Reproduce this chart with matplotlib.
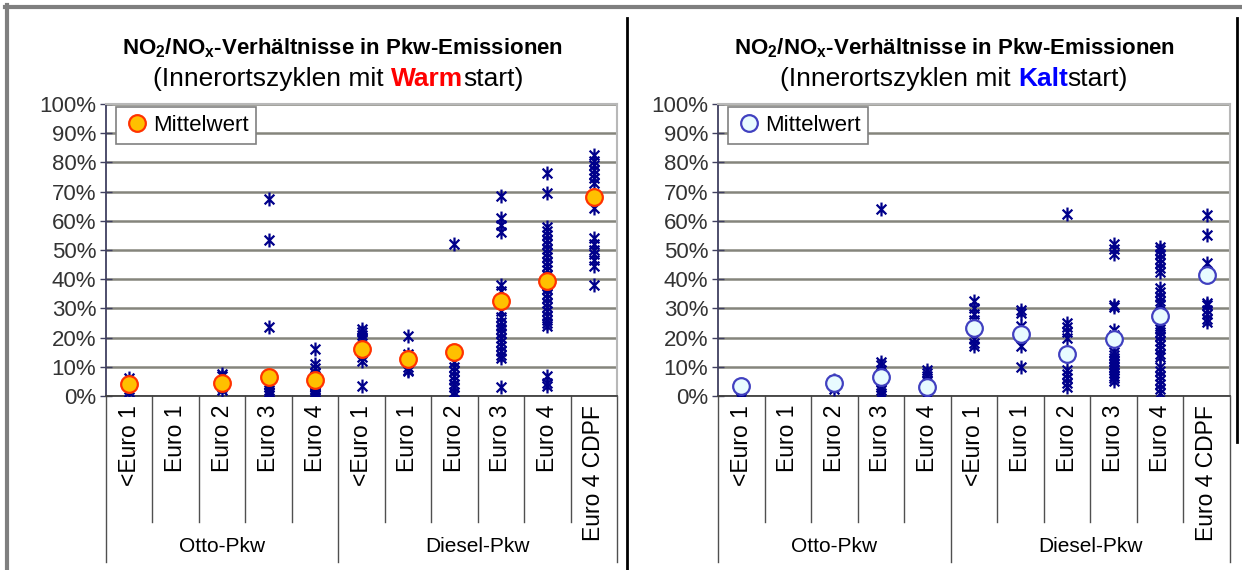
import matplotlib
matplotlib.use("Agg")
import numpy as np
import matplotlib.pyplot as plt
from matplotlib.path import Path
from matplotlib.lines import Line2D
from matplotlib.transforms import blended_transform_factory

plt.rcParams['font.family'] = ['Liberation Sans', 'DejaVu Sans']
plt.rcParams['mathtext.default'] = 'regular'

W, H = 1242, 570

categories = ["<Euro 1", "Euro 1", "Euro 2", "Euro 3", "Euro 4",
              "<Euro 1", "Euro 1", "Euro 2", "Euro 3", "Euro 4", "Euro 4 CDPF"]
groups = ["Otto-Pkw", "Diesel-Pkw"]
group_sizes = [5, 6]
y_ticks = np.arange(0, 101, 10)

# single measurements NO2/NOx in %, warm start
warm_points = [
    [1.5, 2.5, 4.5, 6],
    [],
    [2, 3, 5, 7, 7.5],
    [67.5, 53.5, 23.5, 6, 4, 3, 2, 1.5, 1, 0.5],
    [16, 11, 9.5, 8, 7, 6, 5, 4, 3.5, 3, 2.5, 2, 1.5, 1, 0.5, 0.2],
    [23, 22, 21, 20, 19.5, 13.5, 12, 3.5],
    [20.5, 14.5, 12, 10, 9, 8.5],
    [52, 11.5, 10, 8.5, 7, 5.5, 4, 3, 1.5, 0.5],
    [68.5, 61, 58.5, 56, 38, 36, 29, 27, 25.5, 24, 23, 21.5, 20, 18.5,
     17, 15.5, 14, 13, 3],
    [76.5, 69.5, 58, 56.5, 55, 53.5, 52, 50.5, 49, 47.5, 46, 44.5, 43,
     41.5, 40, 38, 36.5, 35, 33.5, 32, 30.5, 29, 27.5, 26, 25, 24, 7, 4.5, 3.5],
    [82.5, 80.5, 79, 77.5, 76, 74.5, 73, 64.5, 54, 52, 50, 48.5, 46.5, 44.5, 38],
]
warm_means = [4.1, np.nan, 4.6, 6.4, 5.5, 16.2, 12.8, 15.2, 32.5, 39.3, 68.3]

# single measurements NO2/NOx in %, cold start
cold_points = [
    [1, 2, 3.5],
    [],
    [2.5, 3.5, 5.5],
    [64, 11.5, 10.5, 9, 5, 3, 2, 1, 0.5],
    [9, 8, 7, 5.5, 4, 3, 2, 1, 0.5, 0.2],
    [32.5, 30, 28, 26, 19.5, 18, 17],
    [29.5, 28.5, 24, 17, 10],
    [62.5, 25, 23.5, 22, 20, 9, 7.5, 6, 4.5, 3],
    [52, 50.5, 48.5, 31, 30.5, 22.5, 21, 15, 14, 13, 12, 11, 10, 9, 8, 7, 6, 5],
    [51, 50, 48.5, 47, 45.5, 44, 42.5, 37, 35.5, 34, 32.5, 31.5, 24, 23, 22,
     20.5, 19, 17.5, 16, 14.5, 13.5, 10, 8.5, 7, 5.5, 4, 2.5, 1],
    [62, 55, 45.5, 32, 31, 29.5, 28, 26.5, 25.5],
]
cold_means = [3.5, np.nan, 4.3, 6.4, 3.2, 23.2, 21.2, 14.3, 19.5, 27.3, 41.5]

# excel-like "star" marker: vertical bar plus an X
star = Path([(0, -1), (0, 1), (-0.7, -0.7), (0.7, 0.7), (-0.7, 0.7), (0.7, -0.7)],
            [Path.MOVETO, Path.LINETO] * 3)


def px_box(x0, y0, x1, y1):
    return [x0 / W, 1 - y1 / H, (x1 - x0) / W, (y1 - y0) / H]


def fig_line(fig, x0, y0, x1, y1, **kw):
    fig.add_artist(Line2D([x0 / W, x1 / W], [1 - y0 / H, 1 - y1 / H],
                          transform=fig.transFigure, **kw))


def pieces_text(fig, pieces, cx, cy, size):
    # draws differently styled text pieces on one line, centred at cx
    r = fig.canvas.get_renderer()
    probe = fig.text(0, 0, "I I", fontsize=size)
    probe2 = fig.text(0, 0, "II", fontsize=size)
    space = probe.get_window_extent(r).width - probe2.get_window_extent(r).width
    probe.remove()
    probe2.remove()
    arts = []
    widths = []
    for s, weight, color, gap in pieces:
        t = fig.text(0, 1 - cy / H, s, fontsize=size, fontweight=weight, color=color,
                     ha='left', va='center')
        arts.append((t, gap))
        widths.append(t.get_window_extent(r).width + (space if gap else 0))
    x = cx - sum(widths) / 2
    for (t, gap), w in zip(arts, widths):
        t.set_x(x / W)
        x += w


def draw_panel(ax, points, means, mfc, mec):
    ax.set_xlim(-0.5, len(categories) - 0.5)
    ax.set_ylim(0, 100)
    ax.set_yticks(y_ticks)
    ax.set_yticklabels([f"{v}%" for v in y_ticks])
    ax.set_xticks([])
    ax.set_axisbelow(True)
    ax.yaxis.grid(True, color='#85857c', lw=1.8)
    ax.tick_params(axis='y', direction='inout', length=8, width=1, color='#404060',
                   labelsize=16, pad=3, labelcolor='#333333')
    for side in ['top', 'right']:
        ax.spines[side].set_color('#b8b8b8')
        ax.spines[side].set_linewidth(1.5)
    ax.spines['left'].set_color('#404060')
    ax.spines['bottom'].set_color('#404040')
    ax.spines['left'].set_linewidth(1.3)
    ax.spines['bottom'].set_linewidth(1.3)

    for i, vals in enumerate(points):
        ax.plot([i] * len(vals), vals, ls='none', marker=star, ms=10,
                mec='#00008b', mew=1.6, mfc='none', zorder=3)
    ax.plot(range(len(means)), means, ls='none', marker='o', ms=12,
            mfc=mfc, mec=mec, mew=1.6, label='Mittelwert', zorder=4)

    leg = ax.legend(loc='upper left', bbox_to_anchor=(10 / 511, (396 - 107) / 292),
                    borderaxespad=0, fontsize=16, frameon=True, fancybox=False,
                    framealpha=1, edgecolor='#808080', handletextpad=0.1,
                    borderpad=0.35, handlelength=1.2, markerscale=1)
    leg.get_frame().set_linewidth(1.2)

    # category axis below the plot
    trans = blended_transform_factory(ax.transData, ax.transAxes)
    for i, cat in enumerate(categories):
        ax.text(i, -9 / 292, cat, rotation=90, ha='center', va='top',
                fontsize=16.5, transform=trans)
    edges = np.cumsum([0] + group_sizes) - 0.5
    for b in np.arange(-0.5, len(categories)):
        low = (562 - 396) / 292 if b in edges else (522 - 396) / 292
        ax.plot([b, b], [0, -low], transform=trans, clip_on=False,
                color='#505050', lw=1)
    for g, a, b in zip(groups, edges[:-1], edges[1:]):
        ax.text((a + b) / 2, -(547 - 396) / 292, g, ha='center', va='center',
                fontsize=15, transform=trans)


fig = plt.figure(figsize=(W / 100, H / 100), dpi=100)

ax_warm = fig.add_axes(px_box(106, 104, 617, 396))
ax_cold = fig.add_axes(px_box(718, 104, 1230, 396))
draw_panel(ax_warm, warm_points, warm_means, '#FFC000', '#FF3300')
draw_panel(ax_cold, cold_points, cold_means, '#E8FBFF', '#4040C0')

title = r"NO$_2$/NO$_x$-Verhältnisse in Pkw-Emissionen"
fig.text(343 / W, 1 - 48 / H, title, ha='center', va='center', fontsize=16, fontweight='bold')
fig.text(955 / W, 1 - 48 / H, title, ha='center', va='center', fontsize=16, fontweight='bold')
pieces_text(fig, [("(Innerortszyklen mit", 'normal', 'black', True),
                  ("Warm", 'bold', '#FF0000', False),
                  ("start)", 'normal', 'black', False)], 338, 79, 19)
pieces_text(fig, [("(Innerortszyklen mit", 'normal', 'black', True),
                  ("Kalt", 'bold', '#0000FF', False),
                  ("start)", 'normal', 'black', False)], 954, 79, 19)

# outer frame and panel separators
fig_line(fig, 5, 7, W, 7, color='#7f7f7f', lw=3)
fig_line(fig, 7, 5, 7, H, color='#7f7f7f', lw=3)
fig_line(fig, 627, 18, 627, H, color='black', lw=2)
fig_line(fig, 1237, 18, 1237, 442, color='black', lw=2)

fig.savefig("out.png", dpi=100)
